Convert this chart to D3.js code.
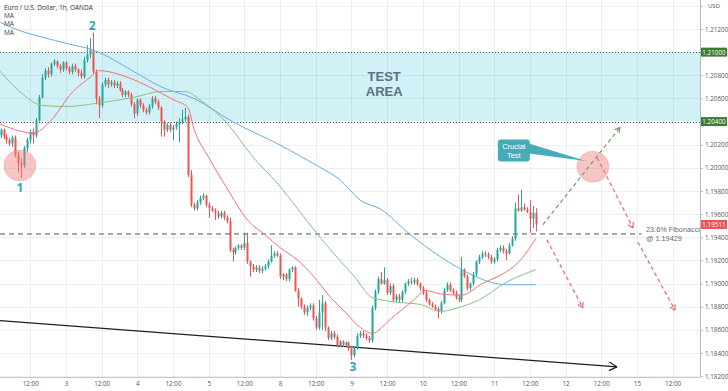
<!DOCTYPE html>
<html><head><meta charset="utf-8">
<script src="https://cdn.jsdelivr.net/npm/d3@7/dist/d3.min.js"></script>
<style>html,body{margin:0;padding:0;background:#fff;}svg{display:block;font-family:"Open Sans","DejaVu Sans",sans-serif;}</style>
</head><body>
<svg id="chart" width="728" height="391"></svg>
<script>
// ---------------- DATA ----------------
const title = "Euro / U.S. Dollar, 1h, OANDA";
const legendItems = ["MA", "MA", "MA"];
// time axis: candle index (1 hour per candle, weekends skipped) and labels
const timeTickIndex = [12, 24, 36, 48, 60, 72, 84, 96, 108, 120, 132, 144, 156, 168, 180, 192, 204, 216, 228];
const timeTickLabels = ["12:00", "3", "12:00", "4", "12:00", "5", "12:00", "8", "12:00", "9", "12:00", "10", "12:00", "11", "12:00", "12", "12:00", "15", "12:00"];
const priceTicks = [1.214, 1.212, 1.210, 1.208, 1.206, 1.204, 1.202, 1.200, 1.198, 1.196, 1.194, 1.192, 1.190, 1.188, 1.186, 1.184, 1.182];
const currency = "USD";
// hourly candles [open, high, low, close]
const candles = [
[1.2037,1.2040,1.2032,1.2034],[1.2034,1.2036,1.2027,1.2028],[1.2028,1.2034,1.2026,1.2033],[1.2033,1.2034,1.2025,1.2027],
[1.2027,1.2029,1.2021,1.2024],[1.2024,1.2026,1.2019,1.2021],[1.2021,1.2028,1.2018,1.2026],[1.2026,1.2028,1.2009,1.2011],
[1.2011,1.2014,1.1996,1.2004],[1.2004,1.2008,1.1991,1.2002],[1.2002,1.2019,1.2000,1.2017],[1.2017,1.2026,1.2014,1.2024],
[1.2024,1.2033,1.2021,1.2031],[1.2031,1.2034,1.2021,1.2028],[1.2028,1.2043,1.2026,1.2041],[1.2041,1.2063,1.2040,1.2061],
[1.2061,1.2081,1.2060,1.2078],[1.2078,1.2086,1.2076,1.2084],[1.2084,1.2087,1.2078,1.2081],[1.2081,1.2091,1.2079,1.2090],
[1.2090,1.2094,1.2088,1.2092],[1.2092,1.2093,1.2086,1.2088],[1.2088,1.2090,1.2082,1.2085],[1.2085,1.2092,1.2083,1.2091],
[1.2091,1.2092,1.2084,1.2086],[1.2086,1.2088,1.2081,1.2083],[1.2083,1.2090,1.2081,1.2088],[1.2088,1.2090,1.2083,1.2085],
[1.2085,1.2086,1.2079,1.2082],[1.2082,1.2085,1.2077,1.2079],[1.2079,1.2096,1.2077,1.2093],[1.2093,1.2106,1.2091,1.2098],
[1.2098,1.2112,1.2095,1.2102],[1.2102,1.2117,1.2081,1.2083],[1.2083,1.2085,1.2055,1.2060],[1.2060,1.2062,1.2043,1.2054],
[1.2054,1.2074,1.2052,1.2072],[1.2072,1.2078,1.2070,1.2076],[1.2076,1.2078,1.2069,1.2072],[1.2072,1.2076,1.2070,1.2074],
[1.2074,1.2076,1.2069,1.2071],[1.2071,1.2075,1.2069,1.2073],[1.2073,1.2075,1.2066,1.2067],[1.2067,1.2069,1.2061,1.2063],
[1.2063,1.2067,1.2061,1.2066],[1.2066,1.2067,1.2061,1.2063],[1.2063,1.2065,1.2053,1.2055],[1.2055,1.2057,1.2043,1.2047],
[1.2047,1.2060,1.2045,1.2059],[1.2059,1.2060,1.2052,1.2054],[1.2054,1.2056,1.2048,1.2050],[1.2050,1.2052,1.2046,1.2048],
[1.2048,1.2055,1.2046,1.2053],[1.2053,1.2062,1.2051,1.2060],[1.2060,1.2062,1.2055,1.2057],[1.2057,1.2059,1.2050,1.2052],
[1.2052,1.2053,1.2027,1.2040],[1.2040,1.2041,1.2027,1.2033],[1.2033,1.2039,1.2031,1.2037],[1.2037,1.2039,1.2031,1.2033],
[1.2033,1.2037,1.2024,1.2035],[1.2035,1.2040,1.2033,1.2038],[1.2038,1.2043,1.2022,1.2040],[1.2040,1.2050,1.2038,1.2042],
[1.2042,1.2052,1.2040,1.2044],[1.2044,1.2046,1.1992,1.1994],[1.1994,1.1998,1.1966,1.1968],[1.1968,1.1970,1.1963,1.1965],
[1.1965,1.1972,1.1963,1.1970],[1.1970,1.1976,1.1968,1.1974],[1.1974,1.1978,1.1972,1.1976],[1.1976,1.1977,1.1966,1.1968],
[1.1968,1.1970,1.1957,1.1965],[1.1965,1.1967,1.1962,1.1963],[1.1963,1.1965,1.1955,1.1961],[1.1961,1.1963,1.1956,1.1958],
[1.1958,1.1963,1.1956,1.1961],[1.1961,1.1963,1.1955,1.1957],[1.1957,1.1959,1.1952,1.1954],[1.1954,1.1957,1.1927,1.1929],
[1.1929,1.1931,1.1919,1.1927],[1.1927,1.1932,1.1925,1.1931],[1.1931,1.1934,1.1929,1.1933],[1.1933,1.1934,1.1929,1.1931],
[1.1931,1.1944,1.1929,1.1935],[1.1935,1.1944,1.1917,1.1919],[1.1919,1.1920,1.1906,1.1915],[1.1915,1.1917,1.1910,1.1912],
[1.1912,1.1916,1.1910,1.1914],[1.1914,1.1916,1.1909,1.1911],[1.1911,1.1915,1.1909,1.1913],[1.1913,1.1917,1.1911,1.1915],
[1.1915,1.1921,1.1913,1.1919],[1.1919,1.1933,1.1918,1.1924],[1.1924,1.1928,1.1922,1.1926],[1.1926,1.1928,1.1923,1.1924],
[1.1924,1.1926,1.1904,1.1906],[1.1906,1.1909,1.1903,1.1908],[1.1908,1.1909,1.1902,1.1904],[1.1904,1.1913,1.1902,1.1912],
[1.1912,1.1915,1.1910,1.1914],[1.1914,1.1915,1.1893,1.1894],[1.1894,1.1896,1.1880,1.1887],[1.1887,1.1888,1.1878,1.1880],
[1.1880,1.1882,1.1873,1.1875],[1.1875,1.1881,1.1872,1.1879],[1.1879,1.1883,1.1877,1.1881],[1.1881,1.1883,1.1868,1.1870],
[1.1870,1.1872,1.1860,1.1862],[1.1862,1.1886,1.1860,1.1875],[1.1875,1.1890,1.1860,1.1883],[1.1883,1.1885,1.1859,1.1862],
[1.1862,1.1863,1.1851,1.1853],[1.1853,1.1859,1.1851,1.1857],[1.1857,1.1859,1.1852,1.1854],[1.1854,1.1856,1.1845,1.1847],
[1.1847,1.1851,1.1845,1.1850],[1.1850,1.1851,1.1845,1.1847],[1.1847,1.1850,1.1845,1.1849],[1.1849,1.1850,1.1842,1.1844],
[1.1844,1.1846,1.1834,1.1838],[1.1838,1.1846,1.1836,1.1844],[1.1844,1.1857,1.1843,1.1855],[1.1855,1.1859,1.1853,1.1857],
[1.1857,1.1859,1.1853,1.1855],[1.1855,1.1857,1.1851,1.1853],[1.1853,1.1855,1.1849,1.1851],[1.1851,1.1881,1.1849,1.1879],
[1.1879,1.1895,1.1877,1.1893],[1.1893,1.1906,1.1891,1.1904],[1.1904,1.1910,1.1899,1.1900],[1.1900,1.1914,1.1899,1.1903],
[1.1903,1.1905,1.1890,1.1892],[1.1892,1.1900,1.1890,1.1898],[1.1898,1.1900,1.1884,1.1886],[1.1886,1.1891,1.1884,1.1889],
[1.1889,1.1891,1.1884,1.1886],[1.1886,1.1894,1.1884,1.1893],[1.1893,1.1901,1.1891,1.1900],[1.1900,1.1904,1.1898,1.1902],
[1.1902,1.1905,1.1899,1.1901],[1.1901,1.1905,1.1899,1.1903],[1.1903,1.1905,1.1898,1.1900],[1.1900,1.1901,1.1894,1.1896],
[1.1896,1.1898,1.1890,1.1892],[1.1892,1.1894,1.1884,1.1886],[1.1886,1.1887,1.1881,1.1882],[1.1882,1.1884,1.1879,1.1880],
[1.1880,1.1882,1.1877,1.1878],[1.1878,1.1880,1.1870,1.1876],[1.1876,1.1885,1.1874,1.1883],[1.1883,1.1896,1.1882,1.1894],
[1.1894,1.1901,1.1893,1.1899],[1.1899,1.1901,1.1893,1.1894],[1.1894,1.1896,1.1890,1.1892],[1.1892,1.1894,1.1886,1.1888],
[1.1888,1.1890,1.1884,1.1886],[1.1886,1.1923,1.1884,1.1912],[1.1912,1.1913,1.1905,1.1906],[1.1906,1.1908,1.1894,1.1896],
[1.1896,1.1901,1.1894,1.1900],[1.1900,1.1910,1.1898,1.1908],[1.1908,1.1920,1.1906,1.1919],[1.1919,1.1925,1.1917,1.1923],
[1.1923,1.1928,1.1921,1.1926],[1.1926,1.1928,1.1923,1.1925],[1.1925,1.1927,1.1921,1.1923],[1.1923,1.1925,1.1917,1.1919],
[1.1919,1.1923,1.1917,1.1921],[1.1921,1.1931,1.1919,1.1929],[1.1929,1.1933,1.1927,1.1931],[1.1931,1.1933,1.1926,1.1928],
[1.1928,1.1930,1.1920,1.1926],[1.1926,1.1935,1.1925,1.1933],[1.1933,1.1941,1.1932,1.1939],[1.1939,1.1970,1.1937,1.1965],
[1.1965,1.1977,1.1962,1.1963],[1.1963,1.1981,1.1962,1.1966],[1.1966,1.1969,1.1963,1.1964],[1.1964,1.1966,1.1961,1.1962],
[1.1962,1.1972,1.1944,1.1956],[1.1956,1.1967,1.1948,1.1961],[1.1961,1.1965,1.1945,1.19511]
];
// moving averages [candle index, price]
const maFast = [[0,1.2040],[7,1.2033],[13,1.2030],[19,1.2041],[26,1.2065],[32,1.2078],[35,1.2084],[45,1.2078],[52,1.2070],[60,1.2059],[65,1.2052],[67,1.2034],[72,1.2009],[78,1.1983],[85,1.1955],[91,1.1942],[96,1.1931],[102,1.1920],[107,1.1907],[113,1.1888],[118,1.1875],[123,1.1862],[127,1.1857],[133,1.1869],[141,1.1886],[145,1.1894],[150,1.1891],[157,1.1890],[164,1.1900],[172,1.1910],[176,1.1918],[182,1.1939]];
const maMid = [[0,1.2089],[8,1.2067],[16,1.2054],[24,1.2053],[35,1.2056],[47,1.2061],[56,1.2066],[64,1.2066],[70,1.2057],[78,1.2039],[87,1.2009],[95,1.1987],[103,1.1961],[112,1.1932],[121,1.1906],[127,1.1888],[135,1.1884],[143,1.1882],[150,1.1876],[157,1.1880],[163,1.1886],[172,1.1901],[182,1.1912]];
const maSlow = [[0,1.2128],[8,1.2119],[16,1.2113],[25,1.2107],[33,1.2102],[47,1.2083],[56,1.2070],[67,1.2060],[80,1.2040],[95,1.2021],[109,1.2001],[116,1.1990],[123,1.1972],[130,1.1964],[139,1.1944],[150,1.1923],[161,1.1907],[167,1.1901],[172,1.1899],[182,1.1899]];
// levels
const testZone = [1.2040, 1.2100];
const fibLevel = 1.19429;
const fibEndIndex = 217.5;
const lastPrice = 1.19511;
const zoneLabel = ["TEST", "AREA"];
const fibLabel = ["23.6% Fibonacci", "@ 1.19429"];
// annotations in data space [index, price]
const trendLine = [[1.8, 1.1868], [209.3, 1.1828]];
const bullPath = [[184.4, 1.1951], [210.3, 1.2035]];
const bearPaths = [[[185.7, 1.1938], [197.8, 1.1879]], [[202.6, 1.2009], [214.7, 1.1948]], [[216.3, 1.1936], [228.8, 1.1877]]];
const circles = [[8.5, 1.2002], [201.2, 1.2001]];
const waveLabels = [["1", 8.5, 1.1983], ["2", 32.8, 1.2123], ["3", 120.5, 1.1828]];
const callout = {text: ["Crucial", "Test"], at: [174.6, 1.2015], tip: [198.9, 1.2006]};

// ---------------- CHART ----------------
const W = 728, H = 391, plotR = 700, plotB = 377;
const svg = d3.select("#chart");
const x = d3.scaleLinear().domain([0, 237.2]).range([-5.4, plotR]);
const y = d3.scaleLinear().domain([1.212, 1.184]).range([29, 353]);

svg.append("rect").attr("width", W).attr("height", H).attr("fill", "#fff");
svg.append("defs").append("clipPath").attr("id", "plot").append("rect")
  .attr("x", 0).attr("y", 0).attr("width", plotR).attr("height", plotB);
const g = svg.append("g").attr("clip-path", "url(#plot)");

// test area
g.append("rect").attr("x", 0).attr("width", plotR)
  .attr("y", y(testZone[1])).attr("height", y(testZone[0]) - y(testZone[1]))
  .attr("fill", "#d2f1f7");

// grid
g.selectAll(".vg").data(timeTickIndex).join("line")
  .attr("x1", d => Math.round(x(d)) + 0.5).attr("x2", d => Math.round(x(d)) + 0.5)
  .attr("y1", 0).attr("y2", plotB).attr("stroke", "rgba(120,130,150,0.13)").attr("stroke-width", 1);
g.selectAll(".hg").data(priceTicks).join("line")
  .attr("y1", d => Math.round(y(d)) + 0.5).attr("y2", d => Math.round(y(d)) + 0.5)
  .attr("x1", 0).attr("x2", plotR).attr("stroke", "rgba(120,130,150,0.13)").attr("stroke-width", 1);

// zone borders
testZone.forEach(v => {
  g.append("line").attr("x1", 0).attr("x2", plotR)
    .attr("y1", Math.round(y(v)) + 0.5).attr("y2", Math.round(y(v)) + 0.5)
    .attr("stroke", "#4d5a55").attr("stroke-width", 1).attr("stroke-dasharray", "1,2");
});
// zone label
zoneLabel.forEach((t, k) => {
  g.append("text").attr("x", x(131)).attr("y", 80.5 + k * 15.3).attr("text-anchor", "middle")
    .attr("font-family", "'Liberation Sans', Arial, sans-serif")
    .attr("font-size", 13).attr("font-weight", "bold").attr("fill", "#5a7282").text(t);
});

// fib line
g.append("line").attr("x1", 0).attr("x2", x(fibEndIndex)).attr("y1", y(fibLevel)).attr("y2", y(fibLevel))
  .attr("stroke", "#8c8c8c").attr("stroke-width", 1.5).attr("stroke-dasharray", "5,4");

// trend line
function arrowHead(p1, p2, color, len, dash) {
  const a = Math.atan2(p2[1] - p1[1], p2[0] - p1[0]);
  [-0.5, 0.5].forEach(s => {
    g.append("line").attr("x1", p2[0]).attr("y1", p2[1])
      .attr("x2", p2[0] - len * Math.cos(a + s)).attr("y2", p2[1] - len * Math.sin(a + s))
      .attr("stroke", color).attr("stroke-width", 1.2).attr("stroke-dasharray", dash || null);
  });
}
const tl = trendLine.map(d => [x(d[0]), y(d[1])]);
g.append("line").attr("x1", tl[0][0]).attr("y1", tl[0][1]).attr("x2", tl[1][0]).attr("y2", tl[1][1])
  .attr("stroke", "#1e1e1e").attr("stroke-width", 1.2);
arrowHead(tl[0], tl[1], "#1e1e1e", 9);

// candles
const up = "#26a69a", dn = "#ef5350";
const cg = g.append("g");
candles.forEach((c, i) => {
  const [o, h, l, cl] = c;
  const col = cl >= o ? up : dn;
  const cx = Math.round(x(i));
  cg.append("line").attr("x1", cx + 0.5).attr("x2", cx + 0.5).attr("y1", y(h)).attr("y2", y(l))
    .attr("stroke", col).attr("stroke-width", 1);
  const top = y(Math.max(o, cl)), bot = y(Math.min(o, cl));
  cg.append("rect").attr("x", cx - 0.5).attr("width", 2).attr("y", top)
    .attr("height", Math.max(1, bot - top)).attr("fill", col);
});

// moving averages
const line = d3.line().x(d => x(d[0])).y(d => y(d[1])).curve(d3.curveMonotoneX);
[[maSlow, "#64aee4"], [maMid, "#82c485"], [maFast, "#f07373"]].forEach(([d, c]) => {
  g.append("path").attr("d", line(d)).attr("fill", "none").attr("stroke", c).attr("stroke-width", 1);
});

// circles
circles.forEach(d => {
  g.append("ellipse").attr("cx", x(d[0])).attr("cy", y(d[1])).attr("rx", 16).attr("ry", 15.5)
    .attr("fill", "#f07f7f").attr("fill-opacity", 0.45).attr("stroke", "#f07f7f").attr("stroke-opacity", 0.3);
});

// projected paths
const bp = bullPath.map(d => [x(d[0]), y(d[1])]);
g.append("line").attr("x1", bp[0][0]).attr("y1", bp[0][1]).attr("x2", bp[1][0]).attr("y2", bp[1][1])
  .attr("stroke", "#6f9a73").attr("stroke-width", 1.2).attr("stroke-dasharray", "4,3");
arrowHead(bp[0], bp[1], "#6f9a73", 6);
bearPaths.forEach(p => {
  const q = p.map(d => [x(d[0]), y(d[1])]);
  g.append("line").attr("x1", q[0][0]).attr("y1", q[0][1]).attr("x2", q[1][0]).attr("y2", q[1][1])
    .attr("stroke", "#e86a6a").attr("stroke-width", 1.2).attr("stroke-dasharray", "4,3");
  arrowHead(q[0], q[1], "#e86a6a", 6);
});

// callout
const cx0 = x(callout.at[0]), cy0 = y(callout.at[1]);
const bw = 32, bh = 22;
const tip = [x(callout.tip[0]), y(callout.tip[1])];
g.append("path").attr("d", `M${cx0 + bw / 2 - 1},${cy0 - 7} L${tip[0]},${tip[1]} L${cx0 + bw / 2 - 1},${cy0 + 3} Z`)
  .attr("fill", "#46adb8");
g.append("rect").attr("x", cx0 - bw / 2).attr("y", cy0 - bh / 2).attr("width", bw).attr("height", bh)
  .attr("rx", 3).attr("fill", "#46adb8");
callout.text.forEach((t, k) => {
  g.append("text").attr("x", cx0).attr("y", cy0 - 1.5 + k * 9).attr("text-anchor", "middle")
    .attr("font-family", "'Liberation Sans', Arial, sans-serif")
    .attr("font-size", 7.5).attr("fill", "#fff").text(t);
});

// wave labels
waveLabels.forEach(([t, i, p]) => {
  g.append("text").attr("x", x(i)).attr("y", y(p)).attr("text-anchor", "middle")
    .attr("dominant-baseline", "central").attr("font-size", 12).attr("font-weight", "bold")
    .attr("fill", "#2aa9b7").text(t);
});

// fib label
fibLabel.forEach((t, k) => {
  svg.append("text").attr("x", 646).attr("y", y(fibLevel) - 1.5 + k * 8.6)
    .attr("font-family", "'Liberation Sans', Arial, sans-serif")
    .attr("font-size", 7.3).attr("fill", "#5f6c78").text(t);
});

// legend
svg.append("text").attr("x", 4).attr("y", 9.5).attr("font-size", 6.5).attr("fill", "#333").text(title);
legendItems.forEach((t, k) => {
  svg.append("text").attr("x", 4).attr("y", 18 + k * 8.3).attr("font-size", 6.5).attr("fill", "#444").text(t);
});

// axes
svg.append("line").attr("x1", plotR + 0.5).attr("x2", plotR + 0.5).attr("y1", 0).attr("y2", plotB)
  .attr("stroke", "#b6b9c0");
svg.append("line").attr("x1", 0).attr("x2", plotR).attr("y1", plotB + 0.5).attr("y2", plotB + 0.5)
  .attr("stroke", "#c5c8ce");
const tagged = [testZone[0], testZone[1], priceTicks[0]];
const yAxis = d3.axisRight(y).tickValues(priceTicks).tickSize(3)
  .tickFormat(d => tagged.some(t => Math.abs(t - d) < 1e-9) ? "" : d3.format(".5f")(d));
const ya = svg.append("g").attr("transform", `translate(${plotR},0)`).call(yAxis);
ya.select(".domain").remove();
ya.selectAll("line").attr("stroke", "#b6b9c0");
ya.selectAll("text").attr("font-size", 6.3).attr("fill", "#555").attr("x", 5)
  .attr("font-family", "'Open Sans', sans-serif");
// currency tag on top
svg.append("text").attr("x", 708).attr("y", y(priceTicks[0])).attr("dominant-baseline", "central")
  .attr("font-size", 6).attr("fill", "#555").text(currency);

const xAxis = d3.axisBottom(x).tickValues(timeTickIndex).tickSize(0).tickFormat((d, k) => timeTickLabels[k]);
const xa = svg.append("g").attr("transform", `translate(0,${plotB})`).call(xAxis);
xa.select(".domain").remove();
xa.selectAll("text").attr("font-size", 6.3).attr("fill", "#555").attr("dy", "0.95em")
  .attr("font-family", "'Open Sans', sans-serif");

// price tags
[[testZone[1], "#3b7d32"], [testZone[0], "#3b7d32"], [lastPrice, "#ee5350"]].forEach(([v, c]) => {
  svg.append("rect").attr("x", 701).attr("y", y(v) - 4.5).attr("width", 26).attr("height", 9).attr("fill", c);
  svg.append("text").attr("x", 714).attr("y", y(v)).attr("dominant-baseline", "central")
    .attr("text-anchor", "middle").attr("font-size", 6.3).attr("fill", "#fff").text(d3.format(".5f")(v));
});
</script>
</body></html>
